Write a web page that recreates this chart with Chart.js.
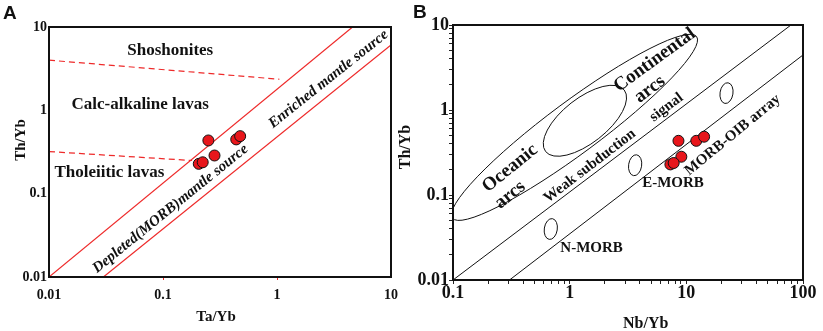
<!DOCTYPE html>
<html><head><meta charset="utf-8">
<script src="https://cdn.jsdelivr.net/npm/chart.js@4.4.0/dist/chart.umd.min.js"></script>
<style>
html,body{margin:0;padding:0;background:#fff;}
body{width:823px;height:331px;position:relative;overflow:hidden;}
#ca{position:absolute;left:0;top:0;}
#cb{position:absolute;left:395px;top:0;}
</style></head><body>
<canvas id="ca" width="410" height="331"></canvas>
<canvas id="cb" width="428" height="331"></canvas>
<script>
// ---------- data ----------
// Panel A: Th/Yb vs Ta/Yb
const taYb   = [0.250, 0.283, 0.206, 0.223, 0.439, 0.475];
const thYbA  = [0.435, 0.287, 0.228, 0.238, 0.448, 0.490];
// Panel B: Th/Yb vs Nb/Yb
const nbYb   = [8.56, 9.06, 7.30, 7.79, 12.17, 14.2];
const thYbB  = [0.434, 0.282, 0.229, 0.238, 0.434, 0.485];

// tick labels (decades)
const ticksA  = [0.01, 0.1, 1, 10];
const ticksBx = [0.1, 1, 10, 100];
const ticksBy = [0.01, 0.1, 1, 10];

// Panel A boundaries (end points, data units)
const mantleUpperX = [0.01, 4.6],  mantleUpperY = [0.01, 10];
const mantleLowerX = [0.030, 10],  mantleLowerY = [0.01, 6.1];
const shoshoX      = [0.01, 1.05], shoshoY      = [4.0, 2.36];
const tholX        = [0.01, 0.18], tholY        = [0.32, 0.25];

// Panel B MORB-OIB array boundaries
const arrayUpperX = [0.1, 78.9],  arrayUpperY = [0.01, 10];
const arrayLowerX = [0.305, 100], arrayLowerY = [0.01, 4.44];

// Panel B fields: centre, tip of long axis (data units), axis ratio
const fieldCentreX = [1.10, 1.351, 0.689, 3.64, 22.1];
const fieldCentreY = [0.625, 0.747, 0.0398, 0.224, 1.58];
const fieldTipX    = [12.25, 2.934, 0.711, 3.753, 22.8];
const fieldTipY    = [7.3, 1.72, 0.0527, 0.297, 2.089];
const fieldRatio   = [0.17, 0.45, 0.62, 0.62, 0.62];

// ---------- helpers ----------
const pairs = (xs, ys) => xs.map((x, i) => ({x, y: ys[i]}));
const SERIF = "'Liberation Serif','Times New Roman',serif";
const SANS = "'Liberation Sans',Arial,sans-serif";
const isMajor = (v, majors) => majors.find(m => Math.abs(Math.log10(v / m)) < 1e-6);
const decadeTicks = majors => scale => {
  const t = [];
  majors.forEach((m, i) => {
    if (i === majors.length - 1) { t.push({value: m}); return; }
    for (let k = 1; k < 10; k++) t.push({value: m * k});
  });
  scale.ticks = t;
};
const labelCb = majors => v => { const m = isMajor(v, majors); return m === undefined ? '' : String(m); };

const framePlugin = {
  id: 'frame',
  afterDatasetsDraw(chart) {
    const {ctx, chartArea: a} = chart;
    ctx.save(); ctx.strokeStyle = '#111'; ctx.lineWidth = 2;
    ctx.strokeRect(a.left, a.top, a.right - a.left, a.bottom - a.top);
    ctx.restore();
  }
};

function textPlugin(dataTexts, pxTexts) {
  return {
    id: 'texts',
    afterDraw(chart) {
      const {ctx, scales: {x, y}} = chart;
      ctx.save(); ctx.fillStyle = '#111';
      const draw = (t, px, py) => {
        ctx.save(); ctx.translate(px, py); ctx.rotate((t.r || 0) * Math.PI / 180);
        ctx.font = t.f; ctx.textAlign = t.align || 'center'; ctx.textBaseline = t.base || 'middle';
        ctx.fillText(t.t, 0, 0); ctx.restore();
      };
      dataTexts.forEach(t => draw(t, x.getPixelForValue(t.x), y.getPixelForValue(t.y)));
      pxTexts.forEach(t => draw(t, t.px, t.py));
      ctx.restore();
    }
  };
}

function fieldsPlugin() {
  return {
    id: 'fields',
    beforeDatasetsDraw(chart) {
      const {ctx, chartArea: a, scales: {x, y}} = chart;
      ctx.save(); ctx.beginPath(); ctx.rect(a.left, a.top, a.right - a.left, a.bottom - a.top); ctx.clip();
      ctx.strokeStyle = '#111'; ctx.lineWidth = 1;
      fieldCentreX.forEach((cxv, i) => {
        const cx = x.getPixelForValue(cxv), cy = y.getPixelForValue(fieldCentreY[i]);
        const tx = x.getPixelForValue(fieldTipX[i]), ty = y.getPixelForValue(fieldTipY[i]);
        const r = Math.hypot(tx - cx, ty - cy), rot = Math.atan2(ty - cy, tx - cx);
        ctx.beginPath(); ctx.ellipse(cx, cy, r, r * fieldRatio[i], rot, 0, Math.PI * 2); ctx.stroke();
      });
      ctx.restore();
    }
  };
}

const RED = '#ee2a2a';
const lineDs = (xs, ys, color, width, dash) => ({
  type: 'scatter', data: pairs(xs, ys), showLine: true, pointRadius: 0, borderColor: color,
  borderWidth: width, borderDash: dash || [], fill: false, order: 1
});
const pointDs = (xs, ys) => ({
  type: 'scatter', data: pairs(xs, ys), pointRadius: 5.5, pointHoverRadius: 5.5,
  backgroundColor: '#e8161b', borderColor: '#111', borderWidth: 1, showLine: false, order: 0
});

const common = {
  responsive: false, animation: false, devicePixelRatio: 1, events: [],
  plugins: {legend: {display: false}, tooltip: {enabled: false}}
};

// ---------- Panel A ----------
new Chart(document.getElementById('ca'), {
  type: 'scatter',
  data: {datasets: [
    pointDs(taYb, thYbA),
    lineDs(mantleUpperX, mantleUpperY, RED, 1.2),
    lineDs(mantleLowerX, mantleLowerY, RED, 1.2),
    lineDs(shoshoX, shoshoY, RED, 1.2, [6, 4]),
    lineDs(tholX, tholY, RED, 1.2, [6, 4])
  ]},
  options: Object.assign({}, common, {
    layout: {padding: {left: 0, top: 27, right: 19, bottom: 0}},
    scales: {
      x: {
        type: 'logarithmic', min: 0.01, max: 10, position: 'bottom',
        afterBuildTicks: decadeTicks(ticksA), afterFit: s => { s.height = 54; },
        grid: {display: true, drawOnChartArea: false, drawTicks: true, tickLength: 3,
               tickColor: c => (c.tick && (isMajor(c.tick.value, [0.1, 1]) !== undefined)) ? RED : 'rgba(0,0,0,0)'},
        border: {display: false},
        ticks: {callback: labelCb(ticksA), autoSkip: false, maxRotation: 0, padding: 8, color: '#111',
                font: {family: SERIF, size: 14, weight: 'bold', lineHeight: 1}}
      },
      y: {
        type: 'logarithmic', min: 0.01, max: 10, position: 'left',
        afterBuildTicks: decadeTicks(ticksA), afterFit: s => { s.width = 49; },
        grid: {display: false, drawTicks: false}, border: {display: false},
        ticks: {callback: labelCb(ticksA), autoSkip: false, padding: 2, color: '#111',
                font: {family: SERIF, size: 14, weight: 'bold', lineHeight: 1}}
      }
    }
  }),
  plugins: [framePlugin, textPlugin([
    {t: 'Shoshonites', x: 0.1157, y: 5.28, f: `bold 17px ${SERIF}`},
    {t: 'Calc-alkaline lavas', x: 0.0631, y: 1.171, f: `bold 17px ${SERIF}`},
    {t: 'Tholeiitic lavas', x: 0.0339, y: 0.1807, f: `bold 17px ${SERIF}`},
    {t: 'Depleted(MORB)mantle source', x: 0.1164, y: 0.0659, r: -39, f: `italic bold 15px ${SERIF}`},
    {t: 'Enriched mantle source', x: 2.83, y: 2.363, r: -38.6, f: `italic bold 15px ${SERIF}`}
  ], [
    {t: 'Ta/Yb', px: 216, py: 317.5, f: `bold 15px ${SERIF}`},
    {t: 'Th/Yb', px: 21, py: 140, r: -90, f: `bold 15px ${SERIF}`},
    {t: 'A', px: 3, py: 4, align: 'left', base: 'top', f: `bold 19px ${SANS}`}
  ])]
});

// ---------- Panel B ----------
new Chart(document.getElementById('cb'), {
  type: 'scatter',
  data: {datasets: [
    pointDs(nbYb, thYbB),
    lineDs(arrayUpperX, arrayUpperY, '#111', 1),
    lineDs(arrayLowerX, arrayLowerY, '#111', 1)
  ]},
  options: Object.assign({}, common, {
    layout: {padding: {left: 0, top: 25, right: 20, bottom: 0}},
    scales: {
      x: {
        type: 'logarithmic', min: 0.1, max: 100, position: 'bottom',
        afterBuildTicks: decadeTicks(ticksBx), afterFit: s => { s.height = 51; },
        grid: {display: true, drawOnChartArea: false, drawTicks: true, tickLength: 4, color: '#222', lineWidth: 1},
        border: {display: false},
        ticks: {callback: labelCb(ticksBx), autoSkip: false, maxRotation: 0, padding: 0, color: '#111',
                font: {family: SERIF, size: 18, weight: 'bold', lineHeight: 1}}
      },
      y: {
        type: 'logarithmic', min: 0.01, max: 10, position: 'left',
        afterBuildTicks: decadeTicks(ticksBy), afterFit: s => { s.width = 58; },
        grid: {display: true, drawOnChartArea: false, drawTicks: true, tickLength: 4, color: '#222', lineWidth: 1},
        border: {display: false},
        ticks: {callback: labelCb(ticksBy), autoSkip: false, padding: 0, color: '#111',
                font: {family: SERIF, size: 18, weight: 'bold', lineHeight: 1}}
      }
    }
  }),
  plugins: [fieldsPlugin(), framePlugin, textPlugin([
    {t: 'Oceanic', x: 0.309, y: 0.206, r: -39, f: `bold 19px ${SERIF}`},
    {t: 'arcs', x: 0.309, y: 0.1, r: -39, f: `bold 19px ${SERIF}`},
    {t: 'Continental', x: 5.36, y: 3.87, r: -36, f: `bold 19px ${SERIF}`},
    {t: 'arcs', x: 4.86, y: 1.75, r: -37, f: `bold 19px ${SERIF}`},
    {t: 'Weak subduction', x: 1.491, y: 0.219, r: -37.5, f: `bold 15px ${SERIF}`},
    {t: 'signal', x: 6.75, y: 1.07, r: -37, f: `bold 15px ${SERIF}`},
    {t: 'MORB-OIB array', x: 25.0, y: 0.508, r: -39.4, f: `bold 15px ${SERIF}`},
    {t: 'E-MORB', x: 7.68, y: 0.137, f: `bold 15px ${SERIF}`},
    {t: 'N-MORB', x: 1.542, y: 0.0236, f: `bold 15px ${SERIF}`}
  ], [
    {t: 'Nb/Yb', px: 250.7, py: 324, f: `bold 16px ${SERIF}`},
    {t: 'Th/Yb', px: 11, py: 147, r: -90, f: `bold 16px ${SERIF}`},
    {t: 'B', px: 18, py: 3, align: 'left', base: 'top', f: `bold 19px ${SANS}`}
  ])]
});
</script>
</body></html>
